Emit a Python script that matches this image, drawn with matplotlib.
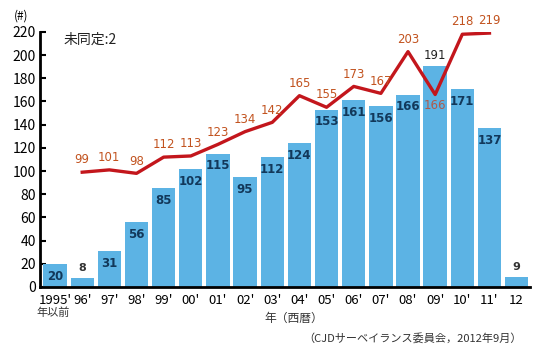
import numpy as np
import matplotlib.pyplot as plt

plt.rcParams['font.family'] = ['Noto Sans CJK JP', 'DejaVu Sans']

# Data
years = ["1995", "96", "97", "98", "99", "00", "01", "02", "03", "04",
         "05", "06", "07", "08", "09", "10", "11", "12"]
bar_values = [20, 8, 31, 56, 85, 102, 115, 95, 112, 124,
              153, 161, 156, 166, 191, 171, 137, 9]
line_years = years[1:17]
line_values = [99, 101, 98, 112, 113, 123, 134, 142, 165, 155,
               173, 167, 203, 166, 218, 219]

bar_color = "#5cb3e4"
line_color = "#c3161c"
line_label_color = "#c2531f"
bar_label_color = "#12385a"

fig = plt.figure(figsize=(5.35, 3.47), dpi=100)
ax = fig.add_axes([0.075, 0.173, 0.915, 0.735])

x = np.arange(len(years))
ax.bar(x, bar_values, width=0.86, color=bar_color, zorder=2)

# bar labels
for xi, v in zip(x, bar_values):
    if v < 15:
        ax.text(xi, v + 4, str(v), ha="center", va="bottom", fontsize=8,
                color="#333333", fontweight="bold", family="DejaVu Sans")
    elif years[xi] == "09":
        ax.text(xi, v + 3, str(v), ha="center", va="bottom", fontsize=8.5,
                color="#222222", family="DejaVu Sans")
    else:
        ax.text(xi, v - 5, str(v), ha="center", va="top", fontsize=8.5,
                color=bar_label_color, fontweight="bold", family="DejaVu Sans")

# line
lx = np.array([years.index(y) for y in line_years])
ax.plot(lx, line_values, color=line_color, lw=2.4, zorder=3)
for xi, v in zip(lx, line_values):
    if years[xi] == "09":
        ax.text(xi, v - 4, str(v), ha="center", va="top", fontsize=8.5,
                color="#b05a4a", family="DejaVu Sans", zorder=4)
    else:
        ax.text(xi, v + 5, str(v), ha="center", va="bottom", fontsize=8.5,
                color=line_label_color, family="DejaVu Sans", zorder=4)

ax.set_xlim(-0.55, 17.48)
ax.set_ylim(0, 220)
ax.set_yticks(np.arange(0, 221, 20))
ax.tick_params(axis="y", direction="in", length=4, width=1.5, labelsize=10, pad=3)
ax.tick_params(axis="x", length=0, labelsize=9.5, pad=5)

xlabels = [y + "'" if y != "12" else y for y in years]
ax.set_xticks(x)
ax.set_xticklabels(xlabels)

for s in ["top", "right"]:
    ax.spines[s].set_visible(False)
ax.spines["left"].set_linewidth(2)
ax.spines["bottom"].set_linewidth(2)

# annotations
fig.text(0.026, 0.955, "(#)", fontsize=8.5, ha="left", va="center")
ax.text(0.3, 213, "未同定:2", fontsize=10, ha="left", va="center", color="#222222")
fig.text(0.1, 0.1, "年以前", fontsize=8, ha="center", va="center", color="#333333")
fig.text(0.55, 0.083, "年（西暦）", fontsize=8.5, ha="center", va="center", color="#333333")
fig.text(0.975, 0.026, "（CJDサーベイランス委員会，2012年9月）", fontsize=8,
         ha="right", va="center", color="#333333")

fig.savefig("out.png", dpi=100)
